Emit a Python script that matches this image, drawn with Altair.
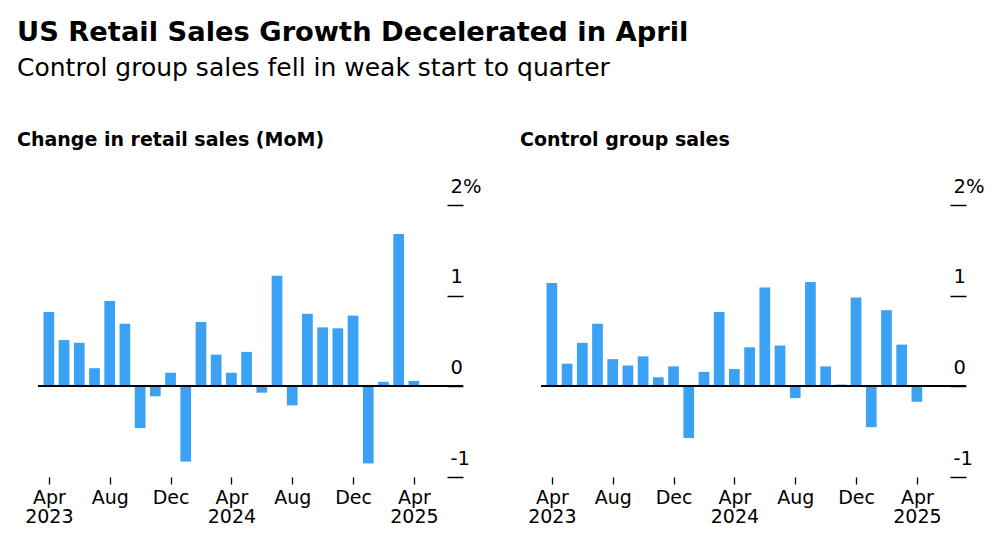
import altair as alt
import pandas as pd

months = ["2023-04", "2023-05", "2023-06", "2023-07", "2023-08", "2023-09", "2023-10",
          "2023-11", "2023-12", "2024-01", "2024-02", "2024-03", "2024-04", "2024-05",
          "2024-06", "2024-07", "2024-08", "2024-09", "2024-10", "2024-11", "2024-12",
          "2025-01", "2025-02", "2025-03", "2025-04"]

retail = [0.82, 0.51, 0.48, 0.20, 0.94, 0.69, -0.46, -0.11, 0.15, -0.83, 0.71, 0.35, 0.15,
          0.38, -0.07, 1.22, -0.21, 0.80, 0.65, 0.64, 0.78, -0.85, 0.05, 1.68, 0.06]

control = [1.14, 0.25, 0.48, 0.69, 0.30, 0.23, 0.33, 0.10, 0.22, -0.57, 0.16, 0.82, 0.19,
           0.43, 1.09, 0.45, -0.13, 1.15, 0.22, 0.02, 0.98, -0.45, 0.84, 0.46, -0.17]

tick_idx = [0, 4, 8, 12, 16, 20, 24]
y_ticks = [-1, 0, 1, 2]

BLUE = "#3AA1F5"
FONT = "DejaVu Sans"
W, H = 425, 272


def panel(values, title):
    df = pd.DataFrame({"idx": list(range(len(months))), "month": months, "value": values})
    x = alt.X(
        "idx:Q",
        scale=alt.Scale(domain=[-0.385, 26.9], nice=False, zero=False),
        axis=alt.Axis(
            values=tick_idx,
            labelExpr="datum.value % 12 == 0 ? ['Apr', '' + (2023 + datum.value / 12)] : (datum.value % 12 == 4 ? 'Aug' : 'Dec')",
            domain=False, grid=False, ticks=True, tickSize=7, tickWidth=1.3,
            tickColor="#000000", labelFontSize=19, labelFont=FONT, labelColor="#000000",
            labelPadding=4, labelLineHeight=19, labelFlush=False, labelOverlap=False,
            title=None,
        ),
    )
    y = alt.Y(
        "value:Q",
        scale=alt.Scale(domain=[-1, 2], nice=False),
        axis=alt.Axis(
            orient="right", values=y_ticks, offset=-16, tickSize=16, tickWidth=1.5,
            tickColor="#000000", domain=False, grid=False,
            labelExpr="datum.value == 2 ? '2%' : '' + datum.value",
            labelAlign="left", labelBaseline="alphabetic", labelPadding=-13,
            labelOffset=-13, labelFontSize=19.5, labelFont=FONT, labelColor="#000000",
            title=None,
        ),
    )
    bars = alt.Chart(df).mark_bar(color=BLUE, width=10.7).encode(x=x, y=y)
    zero = alt.Chart(df).mark_rule(color="#000000", strokeWidth=1.5).encode(y=alt.datum(0))
    return alt.layer(bars, zero).properties(
        width=W, height=H,
        title=alt.TitleParams(title, anchor="start", frame="group", dx=-21,
                              fontSize=19, font=FONT, fontWeight="bold", color="#000000",
                              offset=26),
    )


chart = alt.hconcat(
    panel(retail, "Change in retail sales (MoM)"),
    panel(control, "Control group sales"),
    spacing=78, bounds="flush",
).properties(
    title=alt.TitleParams(
        "US Retail Sales Growth Decelerated in April",
        subtitle="Control group sales fell in weak start to quarter",
        anchor="start", font=FONT, fontSize=27.3, fontWeight="bold", color="#000000",
        subtitleFont=FONT, subtitleFontSize=25, subtitleColor="#000000",
        subtitlePadding=10, offset=50,
    ),
    padding={"left": 9, "top": 10, "right": 5, "bottom": 5},
    background="white",
).configure_view(strokeWidth=0)

chart.save("out.html", embed_options={"renderer": "svg", "actions": False})
